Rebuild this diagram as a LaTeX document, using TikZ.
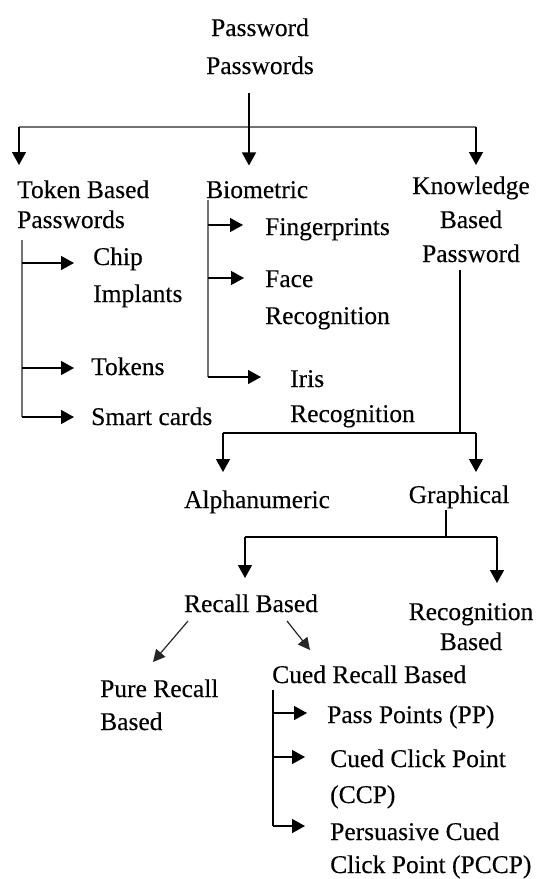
\documentclass[tikz,border=0pt]{standalone}
\usepackage{fontspec}
\setmainfont{Liberation Serif}[FakeBold=0.25]
\usetikzlibrary{arrows.meta}
\newcommand{\lblfont}{\fontsize{25.5}{34}\selectfont}
\tikzset{
  lbl/.style={inner sep=0pt, font=\lblfont},
  link/.style={line width=1.4pt},
  trunk/.style={line width=2.4pt, black!55},
  arr/.style={link, -{Triangle[length=13pt,width=14pt]}},
  slant/.style={line width=1.2pt, black!85, -{Triangle[length=12pt,width=12pt]}},
}

\begin{document}
\begin{tikzpicture}[x=1pt,y=-1pt]
  \useasboundingbox (0,0) rectangle (539,879);
  % first level (multi-line nodes sit on their last baseline)
  \node[lbl,align=center,anchor=base] (root) at (260,74) {Password\\[4pt]Passwords};
  \node[lbl,align=left,anchor=base west] (token) at (17,228) {Token Based\\[-4pt]Passwords};
  \node[lbl,anchor=base west] (bio) at (206,198) {Biometric};
  \node[lbl,align=center,anchor=base] (know) at (471,262) {Knowledge\\Based\\Password};
  % root fan-out
  \coordinate (rj) at (249,127);
  \coordinate (rL) at (19,127);
  \coordinate (rR) at (476,127);
  \draw[trunk] (rL) -- (rR);
  \draw[arr] ([yshift=-19pt]root.south -| rj) -- ++(0,72);
  \draw[arr] (rL) -- ++(0,38);
  \draw[arr] (rR) -- ++(0,38);

  % token based
  \node[lbl,align=left,anchor=base west] (chip) at (93,302) {Chip\\[3pt]Implants};
  \node[lbl,anchor=base west] (tokens) at (91,375) {Tokens};
  \node[lbl,anchor=base west] (smart) at (91,425) {Smart cards};
  \coordinate (tk) at (22,240);
  \draw[trunk] (tk) -- ([yshift=8pt]smart.base west -| tk);
  \foreach \n/\dy/\gap in {chip/39/19, tokens/7/17, smart/8/17}
    \draw[arr] ([yshift=\dy pt]\n.base west -| tk) -- ([xshift=-\gap pt,yshift=\dy pt]\n.base west);

  % biometric
  \node[lbl,anchor=base west] (finger) at (265,235) {Fingerprints};
  \node[lbl,align=left,anchor=base west] (face) at (265,324) {Face\\[3pt]Recognition};
  \node[lbl,align=left,anchor=base west] (iris) at (290,422) {Iris\\[1pt]Recognition};
  \coordinate (bt) at (208,200);
  \draw[trunk] (bt) -- ([yshift=45pt]iris.base west -| bt);
  \foreach \n/\dy/\gap in {finger/10/22, face/46/21, iris/45/29}
    \draw[arr] ([yshift=\dy pt]\n.base west -| bt) -- ([xshift=-\gap pt,yshift=\dy pt]\n.base west);

  % knowledge based
  \node[lbl,anchor=base] (alpha) at (257,508) {Alphanumeric};
  \node[lbl,anchor=base] (graph) at (459,503) {Graphical};
  \coordinate (kj) at (460,433);
  \coordinate (kL) at (223,433);
  \coordinate (kR) at (476,433);
  \draw[link] ([yshift=-8pt]know.south -| kj) -- (kj);
  \draw[link] (kL) -- (kR);
  \draw[arr] (kL) -- ++(0,39);
  \draw[arr] (kR) -- ++(0,39);

  % graphical
  \node[lbl,anchor=base] (recall) at (251,612) {Recall Based};
  \node[lbl,align=center,anchor=base] (recog) at (471,650) {Recognition\\[-4pt]Based};
  \coordinate (gj) at (446,537);
  \coordinate (gL) at (245,537);
  \coordinate (gR) at (497,537);
  \draw[link] ([yshift=-7pt]graph.base -| gj) -- (gj);
  \draw[link] (gL) -- (gR);
  \draw[arr] (gL) -- ++(0,41);
  \draw[arr] (gR) -- ++(0,46);

  % recall based
  \node[lbl,align=left,anchor=base west] (pure) at (100,730) {Pure Recall\\[-1pt]Based};
  \node[lbl,anchor=base west] (cued) at (272,683) {Cued Recall Based};
  \draw[slant] ([shift={(-63,9)}]recall.base) -- ([shift={(-98,50)}]recall.base);
  \draw[slant] ([shift={(36,9)}]recall.base) -- ([shift={(59,38)}]recall.base);

  % cued recall
  \node[lbl,anchor=base west] (pp) at (327,723) {Pass Points (PP)};
  \node[lbl,align=left,anchor=base west] (ccp) at (330,803) {Cued Click Point\\[2pt](CCP)};
  \node[lbl,align=left,anchor=base west] (pccp) at (330,873) {Persuasive Cued\\[-1pt]Click Point (PCCP)};
  \coordinate (ct) at (273,690);
  \draw[link] (ct) -- ([yshift=47pt]pccp.base west -| ct);
  \foreach \n/\dy/\gap in {pp/10/20, ccp/46/25, pccp/47/25}
    \draw[arr] ([yshift=\dy pt]\n.base west -| ct) -- ([xshift=-\gap pt,yshift=\dy pt]\n.base west);
\end{tikzpicture}
\end{document}
